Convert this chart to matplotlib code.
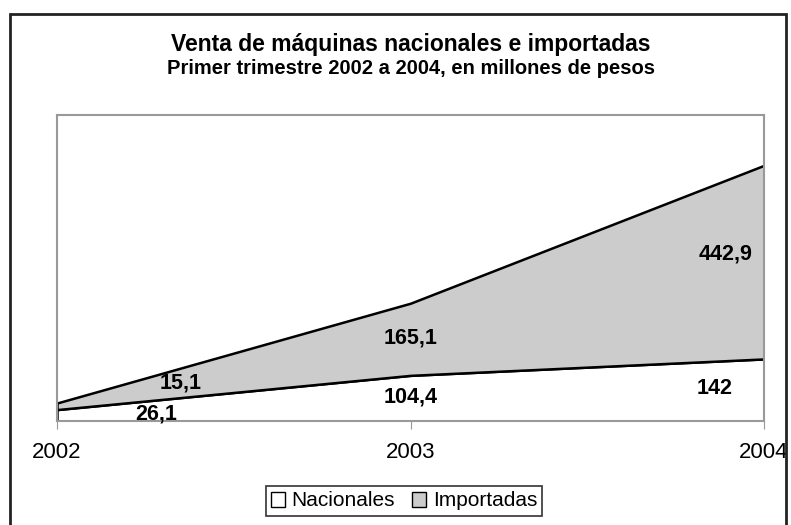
import matplotlib.pyplot as plt
from matplotlib.patches import Patch, Rectangle

plt.rcParams['font.family'] = ['Liberation Sans', 'DejaVu Sans']

years = [2002, 2003, 2004]
nacionales = [26.1, 104.4, 142]
importadas = [15.1, 165.1, 442.9]
series_names = ['Nacionales', 'Importadas']
labels_nac = ['26,1', '104,4', '142']
labels_imp = ['15,1', '165,1', '442,9']

fig = plt.figure(figsize=(7.91, 5.25), dpi=100)
ax = fig.add_axes([57 / 791, 1 - 421 / 525, (764 - 57) / 791, (421 - 115) / 525])

ax.stackplot(years, nacionales, importadas, colors=['white', '#cccccc'],
             edgecolor='black', linewidth=1.8)

ax.set_xlim(2002, 2004)
ax.set_ylim(0, 700)
ax.set_yticks([])
ax.set_xticks(years)
ax.set_xticklabels([str(y) for y in years], fontsize=16)
ax.tick_params(axis='x', length=6, color='#999999', pad=9)
for s in ax.spines.values():
    s.set_color('#999999')
    s.set_linewidth(1.5)

# data labels
nac_pos = [(2002.28, 17), (2003.0, 55), (2004 - 0.14, 75)]
imp_pos = [(2002.35, 87), (2003.0, 190), (2004 - 0.11, 382)]
for (x, y), t in zip(nac_pos, labels_nac):
    ax.text(x, y, t, ha='center', va='center', fontsize=15.5, fontweight='bold')
for (x, y), t in zip(imp_pos, labels_imp):
    ax.text(x, y, t, ha='center', va='center', fontsize=15.5, fontweight='bold')

fig.text(411 / 791, 1 - 44 / 525, 'Venta de máquinas nacionales e importadas',
         ha='center', va='center', fontsize=16.5, fontweight='bold')
fig.text(411 / 791, 1 - 69 / 525, 'Primer trimestre 2002 a 2004, en millones de pesos',
         ha='center', va='center', fontsize=14.5, fontweight='bold')

handles = [Patch(facecolor='white', edgecolor='black', label=series_names[0]),
           Patch(facecolor='#cccccc', edgecolor='black', label=series_names[1])]
leg = fig.legend(handles=handles, loc='center', bbox_to_anchor=(404 / 791, 1 - 501 / 525),
                 ncol=2, fontsize=15, frameon=True, fancybox=False, edgecolor='black',
                 handlelength=0.7, handleheight=0.7, handletextpad=0.3, columnspacing=0.8,
                 borderpad=0.25, borderaxespad=0)
leg.get_frame().set_linewidth(1.2)

fig.patches.append(Rectangle((10 / 791, -0.05), (786 - 10) / 791, 1.05 - 14 / 525,
                             transform=fig.transFigure, fill=False,
                             edgecolor='#222222', linewidth=2))

fig.savefig('out.png', dpi=100)
